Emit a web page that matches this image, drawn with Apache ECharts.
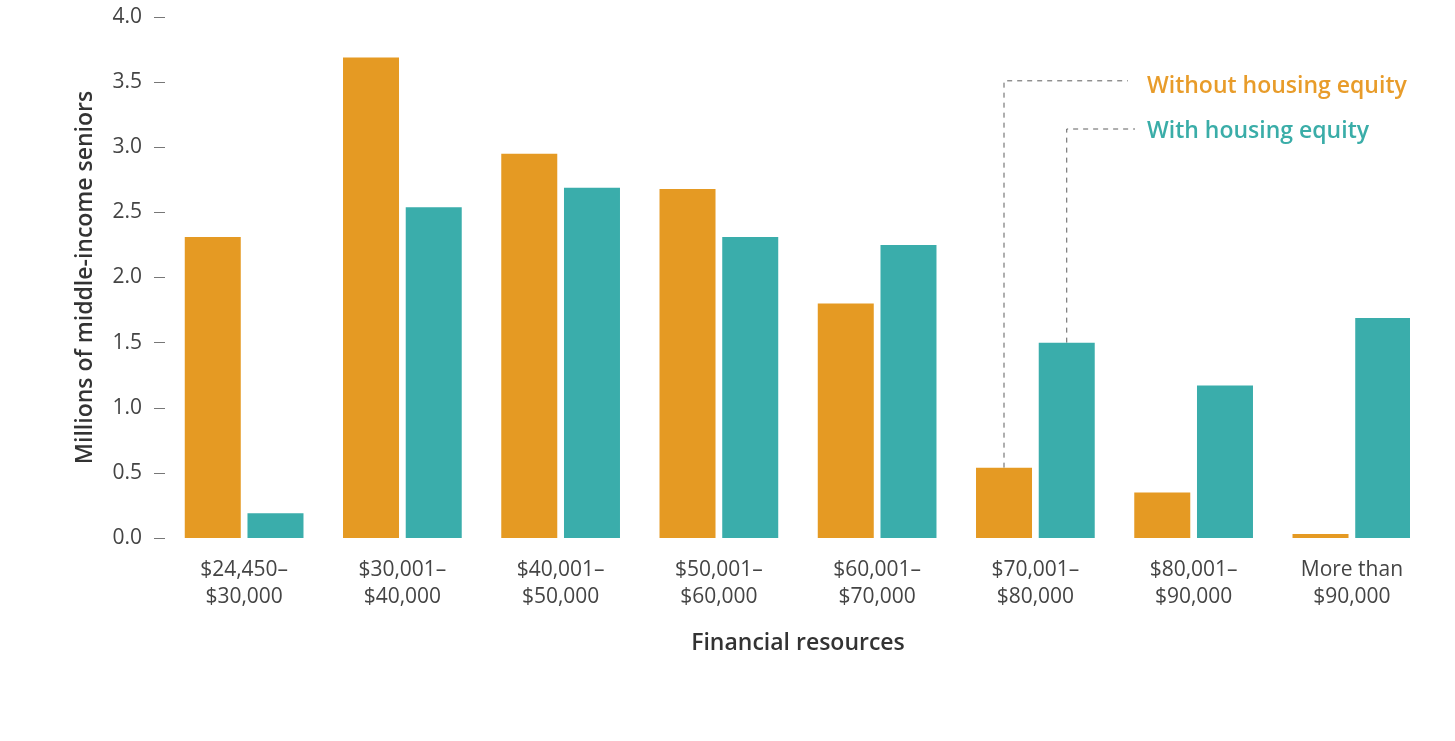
<!DOCTYPE html>
<html>
<head>
<meta charset="utf-8">
<title>Middle-income seniors by financial resources</title>
<script src="https://cdn.jsdelivr.net/npm/echarts@6/dist/echarts.min.js"></script>
<style>
  html, body { margin: 0; padding: 0; background: #ffffff; }
  #clip { width: 1410px; height: 741px; overflow: hidden; }
  #chart { width: 1455px; height: 741px; }
</style>
</head>
<body>
<div id="clip"><div id="chart"></div></div>
<script>
// Financial resource brackets (x axis)
const categories = [
  '$24,450–\n$30,000',
  '$30,001–\n$40,000',
  '$40,001–\n$50,000',
  '$50,001–\n$60,000',
  '$60,001–\n$70,000',
  '$70,001–\n$80,000',
  '$80,001–\n$90,000',
  'More than\n$90,000'
];

// Millions of middle-income seniors in each bracket
const withoutEquity = [2.31, 3.69, 2.95, 2.68, 1.80, 0.54, 0.35, 0.03];
const withEquity    = [0.19, 2.54, 2.69, 2.31, 2.25, 1.50, 1.17, 1.69];

// Value axis ticks
const yMin = 0, yMax = 4, yStep = 0.5;

const seriesNames = ['Without housing equity', 'With housing equity'];
const ORANGE = '#E59A23';
const TEAL = '#3AADAB';
const FONT = '"Open Sans", "Noto Sans", sans-serif';

const chart = echarts.init(document.getElementById('chart'), null, { renderer: 'canvas' });

chart.setOption({
  animation: false,
  backgroundColor: '#ffffff',
  grid: { left: 165, right: 24, top: 17, bottom: 203, containLabel: false },
  xAxis: {
    type: 'category',
    data: categories,
    name: 'Financial resources',
    nameLocation: 'middle',
    nameGap: 94,
    nameTextStyle: { fontFamily: FONT, fontSize: 23, fontWeight: 600, color: '#333' },
    axisLine: { show: false },
    axisTick: { show: false },
    axisLabel: {
      margin: 19,
      fontFamily: FONT, fontSize: 21, color: '#444', lineHeight: 27,
      interval: 0
    }
  },
  yAxis: {
    type: 'value',
    min: yMin, max: yMax, interval: yStep,
    name: 'Millions of middle-income seniors',
    nameLocation: 'middle',
    nameGap: 68,
    nameRotate: 90,
    nameTextStyle: { fontFamily: FONT, fontSize: 23, fontWeight: 600, color: '#333' },
    axisLine: { show: false },
    axisTick: { show: true, length: 11, lineStyle: { color: '#777', width: 1 } },
    splitLine: { show: false },
    axisLabel: {
      margin: 23,
      fontFamily: FONT, fontSize: 21, color: '#444',
      formatter: v => v.toFixed(1)
    }
  },
  series: [
    {
      name: seriesNames[0], type: 'bar', data: withoutEquity,
      barWidth: 56, barGap: '12%',
      itemStyle: { color: ORANGE }
    },
    {
      name: seriesNames[1], type: 'bar', data: withEquity,
      barWidth: 56, barGap: '12%',
      itemStyle: { color: TEAL }
    }
  ]
});

// Leader lines from the $70,001–$80,000 bars to the series labels
function barTop(seriesIndex, dataIndex) {
  const lay = chart.getModel().getSeriesByIndex(seriesIndex).getData().getItemLayout(dataIndex);
  return { x: lay.x + lay.width / 2, y: Math.min(lay.y, lay.y + lay.height) };
}
const anchorIdx = 5;
const oTop = barTop(0, anchorIdx);
const tTop = barTop(1, anchorIdx);
const oLevel = chart.convertToPixel({ yAxisIndex: 0 }, 3.51);
const tLevel = chart.convertToPixel({ yAxisIndex: 0 }, 3.14);
const textX = 1147;
const dash = { stroke: '#5e5e5e', lineWidth: 1, lineDash: [5, 5] };

chart.setOption({
  graphic: [
    { type: 'polyline', silent: true, shape: { points: [[oTop.x, oTop.y], [oTop.x, oLevel], [textX - 19, oLevel]] }, style: Object.assign({ fill: null }, dash) },
    { type: 'polyline', silent: true, shape: { points: [[tTop.x, tTop.y], [tTop.x, tLevel], [textX - 12, tLevel]] }, style: Object.assign({ fill: null }, dash) },
    { type: 'text', silent: true, x: textX, y: oLevel + 6, style: { text: seriesNames[0], fill: '#E89C2A', font: '600 23px ' + FONT, verticalAlign: 'middle', align: 'left' } },
    { type: 'text', silent: true, x: textX, y: tLevel + 2, style: { text: seriesNames[1], fill: '#3AADA8', font: '600 23px ' + FONT, verticalAlign: 'middle', align: 'left' } }
  ]
});
</script>
</body>
</html>
